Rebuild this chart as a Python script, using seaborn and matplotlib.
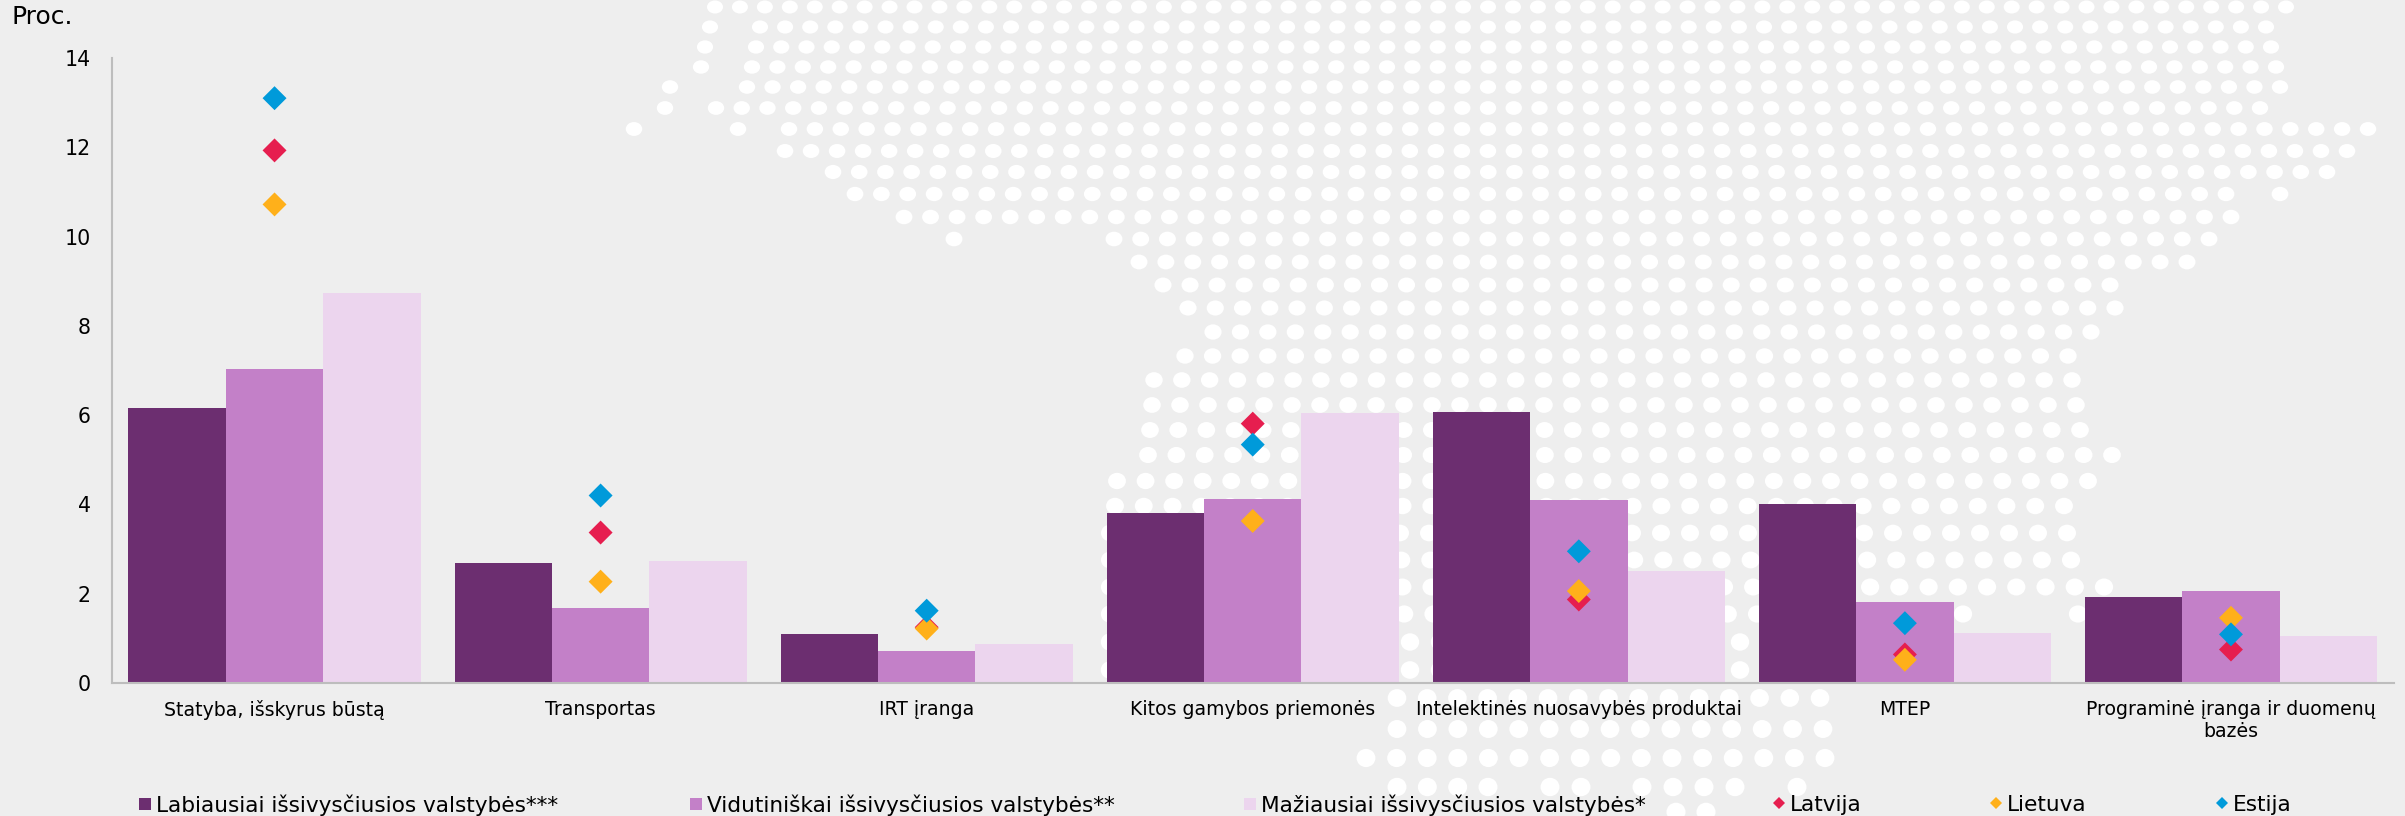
import numpy as np
import pandas as pd
import seaborn as sns
from matplotlib import pyplot as plt
from matplotlib.lines import Line2D
from matplotlib.patches import Ellipse

kategorijos = ['Statyba, išskyrus būstą', 'Transportas', 'IRT įranga', 'Kitos gamybos priemonės',
               'Intelektinės nuosavybės produktai', 'MTEP', 'Programinė įranga ir duomenų\nbazės']

grupes = ['Labiausiai išsivysčiusios valstybės***', 'Vidutiniškai išsivysčiusios valstybės**',
          'Mažiausiai išsivysčiusios valstybės*']
labiausiai = [6.15, 2.69, 1.09, 3.80, 6.06, 4.02, 1.93]
vidutiniskai = [7.03, 1.69, 0.71, 4.13, 4.10, 1.81, 2.06]
maziausiai = [8.74, 2.73, 0.87, 6.04, 2.52, 1.11, 1.05]

salys = ['Latvija', 'Lietuva', 'Estija']
latvija = [11.93, 3.37, 1.25, 5.81, 1.87, 0.64, 0.75]
lietuva = [10.72, 2.27, 1.22, 3.63, 2.06, 0.52, 1.46]
estija = [13.10, 4.20, 1.62, 5.34, 2.95, 1.34, 1.09]

# fono taskai (dekoracija, pikseliais): y, zingsnis, atkarpos (nuo, iki)
taskai = [
    (7, 24.95, [(715, 2286)]), (27, 25.1, [(710, 710), (760, 2266)]), (47, 25.2, [(705, 705), (756, 2271)]),
    (67, 25.4, [(701, 701), (752, 2276)]), (87, 25.5, [(670, 670), (747, 2280)]),
    (108, 25.7, [(665, 665), (716, 2260)]), (129, 25.9, [(634, 634), (738, 738), (789, 2368)]),
    (151, 26.2, [(785, 2347)]), (172, 26.4, [(833, 2327)]), (194, 26.5, [(855, 2226), (2280, 2280)]),
    (217, 26.7, [(904, 2231)]), (239, 26.85, [(954, 954), (1114, 2209)]), (262, 27, [(1139, 2187)]),
    (285, 27.1, [(1163, 2110)]), (308, 27.4, [(1188, 2115)]), (332, 27.5, [(1213, 2091)]),
    (356, 27.7, [(1185, 2068)]), (380, 27.8, [(1154, 2072)]), (405, 28, [(1152, 2076)]),
    (430, 28, [(1150, 2080)]), (455, 28.3, [(1148, 2112)]), (481, 28.5, [(1117, 2088)]),
    (506, 28.7, [(1115, 2064)]), (533, 29, [(1110, 2067)]), (560, 29.2, [(1110, 2071)]),
    (587, 29.4, [(1110, 2104)]), (614, 29.6, [(1110, 1963), (2078, 2078)]), (642, 29.8, [(1110, 1860)]),
    (670, 30, [(1110, 1860)]), (698, 30.2, [(1397, 1820)]), (729, 30.5, [(1397, 1823)]),
    (758, 30.6, [(1366, 1825)]),
    (787, 30.6, [(1397, 1488), (1550, 1581), (1642, 1735), (1797, 1797)]), (812, 30.6, [(1676, 1706)]),
]

W, H = 2405, 816
FON = '#EEEEEE'
spalvos_grupes = ['#6C2E70', '#C380C8', '#ECD5EE']
spalvos_saliu = ['#E61E4F', '#FFB01A', '#009ADA']

sns.set_theme(style='white')
plt.rcParams['font.family'] = ['DejaVu Sans']

fig = plt.figure(figsize=(W / 100, H / 100), dpi=100, facecolor=FON)

# fonas
fonas = fig.add_axes([0, 0, 1, 1], zorder=0)
fonas.set_xlim(0, W)
fonas.set_ylim(H, 0)
fonas.axis('off')
for y, zingsnis, atkarpos in taskai:
    for nuo, iki in atkarpos:
        n = int(round((iki - nuo) / zingsnis)) + 1
        for x in np.linspace(nuo, iki, n):
            fonas.add_patch(Ellipse((x, y), 16 + 3 * y / 800, 13 + 5.5 * y / 800, color='white', lw=0))

ax = fig.add_axes([111.5 / W, 1 - 683 / H, (2394 - 111.5) / W, (683 - 58) / H], zorder=1)
ax.patch.set_alpha(0)

df = pd.DataFrame({'kategorija': kategorijos, grupes[0]: labiausiai, grupes[1]: vidutiniskai, grupes[2]: maziausiai})
df = df.melt(id_vars='kategorija', var_name='grupe', value_name='reiksme')
sns.barplot(data=df, x='kategorija', y='reiksme', hue='grupe', hue_order=grupes, palette=spalvos_grupes,
            order=kategorijos, width=0.896, gap=0, saturation=1, linewidth=0, legend=False, ax=ax)

df2 = pd.DataFrame({'kategorija': kategorijos, salys[0]: latvija, salys[1]: lietuva, salys[2]: estija})
df2 = df2.melt(id_vars='kategorija', var_name='salis', value_name='reiksme')
sns.stripplot(data=df2, x='kategorija', y='reiksme', hue='salis', hue_order=salys, palette=spalvos_saliu,
              order=kategorijos, marker='D', size=12.2, linewidth=0, jitter=False, dodge=False, legend=False,
              zorder=3, ax=ax)

ax.set_xlim(-0.5, 6.5)
ax.set_ylim(0, 14)
ax.set_yticks(range(0, 15, 2))
ax.set_xlabel('')
ax.set_ylabel('')
ax.tick_params(axis='x', length=0, pad=12, labelsize=13.55, labelcolor='black')
ax.tick_params(axis='y', length=0, pad=15, labelsize=14.8, labelcolor='black')
sns.despine(ax=ax)
for s in ['left', 'bottom']:
    ax.spines[s].set_color('#BDBDBD')
    ax.spines[s].set_linewidth(1.5)

fig.text(12 / W, 1 - 17 / H, 'Proc.', fontsize=18, color='black', va='center', ha='left')

# legenda
legenda_x = [139, 690, 1244, 1773, 1990, 2216]
zymes = [Line2D([], [], ls='none', marker='s', ms=8.6, mew=0, color=c) for c in spalvos_grupes]
zymes += [Line2D([], [], ls='none', marker='D', ms=6.4, mew=0, color=c) for c in spalvos_saliu]
for x, zyme, tekstas in zip(legenda_x, zymes, grupes + salys):
    fig.legend(handles=[zyme], labels=[tekstas], loc='center left', bbox_to_anchor=(x / W, 1 - 805 / H),
               frameon=False, fontsize=15.6, borderpad=0, borderaxespad=0, handlelength=0.55, handletextpad=0.25,
               labelcolor='black')

fig.savefig('out.png', dpi=100, facecolor=FON)
